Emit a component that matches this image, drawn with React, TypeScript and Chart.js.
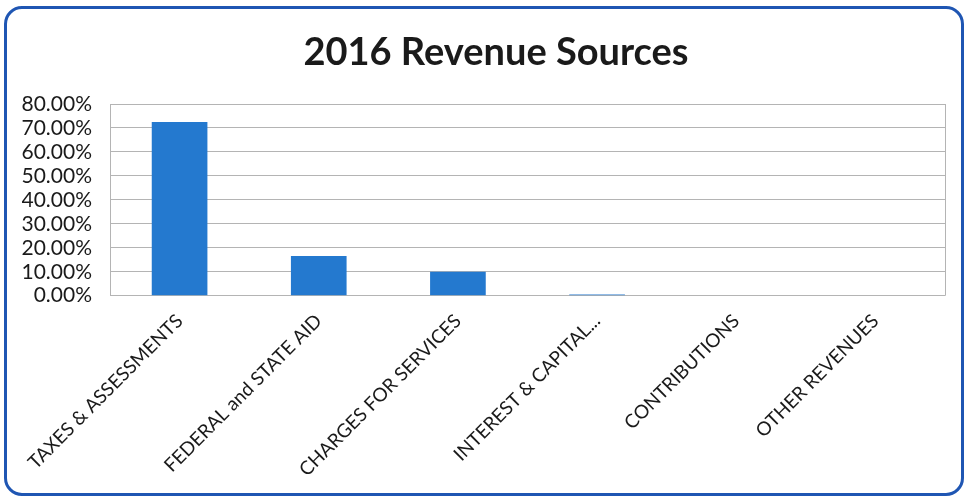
import React, { useEffect, useRef } from "react";
import { Chart, registerables } from "chart.js";

Chart.register(...registerables);

const categories = [
  "TAXES & ASSESSMENTS",
  "FEDERAL and STATE AID",
  "CHARGES FOR SERVICES",
  "INTEREST & CAPITAL...",
  "CONTRIBUTIONS",
  "OTHER REVENUES",
];
const shares = [72.5, 16.6, 10.0, 0.5, 0, 0];
const yTicks = [0, 10, 20, 30, 40, 50, 60, 70, 80];
const titleText = "2016 Revenue Sources";

export default function App() {
  const ref = useRef<HTMLCanvasElement | null>(null);
  useEffect(() => {
    if (!ref.current) return;
    const chart = new Chart(ref.current, {
      type: "bar",
      data: {
        labels: categories,
        datasets: [
          {
            data: shares,
            backgroundColor: "#2479cf",
            borderWidth: 0,
            categoryPercentage: 1,
            barPercentage: 0.4,
          },
        ],
      },
      options: {
        animation: false,
        responsive: false,
        maintainAspectRatio: false,
        layout: { padding: { left: 15, right: 16, top: 95, bottom: 6 } },
        plugins: {
          legend: { display: false },
          tooltip: { enabled: false },
          title: { display: false },
        },
        scales: {
          x: {
            afterFit: (scale: any) => {
              scale.paddingLeft = 0;
            },
            grid: { display: false },
            border: { display: false },
            ticks: {
              color: "#1a1a1a",
              font: { family: "Lato", size: 19 },
              maxRotation: 45,
              minRotation: 45,
              autoSkip: false,
              padding: 6,
            },
          },
          y: {
            min: 0,
            max: 80,
            afterFit: (scale: any) => {
              scale.width = 88;
            },
            afterBuildTicks: (axis: any) => {
              axis.ticks = yTicks.map((v) => ({ value: v }));
            },
            grid: { color: "#b4b4b4", lineWidth: 1, drawTicks: false },
            border: { display: true, color: "#b4b4b4" },
            ticks: {
              color: "#1a1a1a",
              font: { family: "Lato", size: 21 },
              padding: 18,
              autoSkip: false,
              callback: (v: any) => Number(v).toFixed(2) + "%",
            },
          },
        },
      },
      plugins: [
        {
          id: "extras",
          afterDraw(c: any) {
            const a = c.chartArea;
            const ctx = c.ctx;
            ctx.save();
            ctx.strokeStyle = "#b4b4b4";
            ctx.lineWidth = 1;
            ctx.beginPath();
            ctx.moveTo(a.right + 0.5, a.top);
            ctx.lineTo(a.right + 0.5, a.bottom);
            ctx.stroke();
            ctx.fillStyle = "#1a1a1a";
            ctx.font = "bold 38px Lato";
            ctx.textAlign = "center";
            ctx.textBaseline = "middle";
            ctx.fillText(titleText, 489, 44);
            ctx.restore();
          },
        },
      ],
    });
    return () => chart.destroy();
  }, []);

  return (
    <div
      style={{
        position: "fixed",
        left: 0,
        top: 0,
        width: 970,
        height: 503,
        background: "#ffffff",
      }}
    >
      <div
        style={{
          position: "absolute",
          left: 4,
          top: 6,
          width: 960,
          height: 490,
          border: "3px solid #1f56b3",
          borderRadius: 18,
          boxSizing: "border-box",
          overflow: "hidden",
        }}
      >
        <canvas ref={ref} width={954} height={484} style={{ display: "block" }} />
      </div>
    </div>
  );
}
